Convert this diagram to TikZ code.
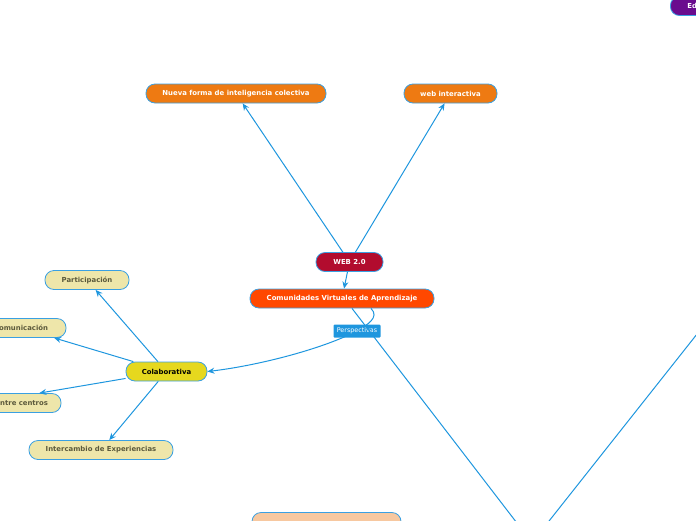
\documentclass[tikz,border=0pt]{standalone}
\usepackage{fontspec}
\setmainfont{DejaVu Sans}
\usetikzlibrary{arrows.meta}

\definecolor{linkblue}{HTML}{1E96DE}
\definecolor{borderblue}{HTML}{3AA0E2}
\definecolor{orangeA}{HTML}{EE7A12}
\definecolor{webred}{HTML}{B20C2E}
\definecolor{comred}{HTML}{FF4800}
\definecolor{colyellow}{HTML}{E6D81E}
\definecolor{khaki}{HTML}{EEE6AA}
\definecolor{khakitext}{HTML}{5C5A3C}
\definecolor{peach}{HTML}{F7C8A0}
\definecolor{eduviolet}{HTML}{6A0C8E}

\tikzset{
  topic/.style={draw=borderblue, line width=0.8pt, rounded corners=9pt,
    minimum height=19pt, inner sep=0pt, text=white,
    font=\fontsize{6.9}{8}\selectfont\bfseries},
  subtopic/.style={topic, fill=khaki, text=khakitext},
  tag/.style={fill=linkblue, text=white, rounded corners=1pt, inner sep=0pt,
    minimum width=47pt, minimum height=13pt, font=\fontsize{6.4}{7}\selectfont},
  link/.style={draw=linkblue, line width=1pt, -{Stealth[length=7pt,width=6pt]}},
  plain/.style={draw=linkblue, line width=1pt},
}

\begin{document}
\begin{tikzpicture}[x=1pt,y=-1pt]
\useasboundingbox (0,0) rectangle (696,520);
\clip (0,0) rectangle (696,520);

% Central topics
\node[topic, fill=orangeA, minimum width=180pt] (nueva) at (236,93.5) {Nueva forma de inteligencia colectiva};
\node[topic, fill=orangeA, minimum width=93pt] (inter) at (450.5,93.5) {web interactiva};
\node[topic, fill=webred, minimum width=67pt] (web) at (349.5,262) {WEB 2.0};
\node[topic, fill=comred, minimum width=184pt] (comun) at (342,298.5) {Comunidades Virtuales de Aprendizaje};

% Colaborativa and its branches
\node[topic, fill=colyellow, text=black, minimum width=81pt] (colab) at (166.5,371.5) {Colaborativa};
\node[subtopic, minimum width=84pt] (partic) at (87,280) {Participación};
\node[subtopic, minimum width=90pt] (comunic) at (21,328) {Comunicación};
\node[subtopic, minimum width=160pt, text width=134pt, align=right] (centros) at (-19,403) {entre centros};
\node[subtopic, minimum width=144pt] (experien) at (101,450) {Intercambio de Experiencias};

% Topics cut by the border
\node[topic, fill=peach, minimum width=149pt] (bottom) at (326.5,522) {};
\node[topic, fill=eduviolet, anchor=west, minimum width=60pt, text width=26pt, align=left] (edu) at (670,6) {Ed};

% Links
\draw[link] (web) -- (nueva);
\draw[link] (web) -- (inter);
\draw[link] (web) -- (comun);
\draw[link] (colab) -- (partic);
\draw[link] (colab) -- (comunic);
\draw[link] (colab) -- (centros);
\draw[link] (colab) -- (experien);

% Perspectivas
\coordinate (pmid) at (357,331);
\draw[link] ([xshift=29pt]comun.south) .. controls +(9,9) and +(10,-6) .. (pmid)
  .. controls (320,350) and (255,366) .. (colab.east);
\node[tag] (persp) at (pmid) {Perspectivas};

% Lines leaving the picture
\coordinate (offbottom) at (530,540);
\coordinate (offleft) at (534,540);
\coordinate (offright) at (720,305);
\draw[plain] ([xshift=10pt]comun.south) -- (offbottom);
\draw[plain] (offleft) -- (offright);
\end{tikzpicture}
\end{document}
